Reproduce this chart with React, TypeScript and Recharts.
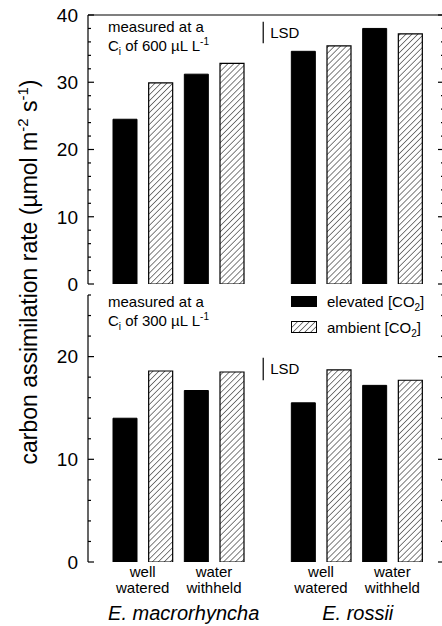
import React from 'react';
import { BarChart, Bar, XAxis, YAxis, ReferenceLine } from 'recharts';

// groups in order: E. macrorhyncha well watered / water withheld, E. rossii well watered / water withheld
const treatments = ['well watered', 'water withheld', 'well watered', 'water withheld'];
const species = ['E. macrorhyncha', 'E. rossii'];

// measured at Ci of 600 uL/L
const topElevated = [24.5, 31.2, 34.6, 38.0];
const topAmbient = [29.9, 32.8, 35.4, 37.2];
// measured at Ci of 300 uL/L
const bottomElevated = [14.0, 16.7, 15.5, 17.2];
const bottomAmbient = [18.6, 18.5, 18.7, 17.7];

// LSD bars: [base, length]
const topLsd = [35.8, 3.2];
const bottomLsd = [17.7, 2.2];

const topTicks = [0, 2, 4, 6, 8, 10, 12, 14, 16, 18, 20, 22, 24, 26, 28, 30, 32, 34, 36, 38, 40];
const bottomTicks = [0, 2, 4, 6, 8, 10, 12, 14, 16, 18, 20, 22, 24, 26];

const FONT = '"Liberation Sans", Arial, Helvetica, sans-serif';
const W = 446;
const YW = 88;
const PAD = { left: 19, right: 16 };
const SLOT = (W - YW - 2 - PAD.left - PAD.right) / 9;
// index axis: value i sits at the centre of slot i
const IDX_PAD = { left: PAD.left + SLOT / 2, right: PAD.right + SLOT / 2 };

function buildRows(elev: number[], amb: number[]) {
  const rows: any[] = [];
  elev.forEach((v, g) => {
    if (g === 2) rows.push({ key: 'gap', elevated: null, ambient: null });
    rows.push({ key: 'e' + g, elevated: v, ambient: null });
    rows.push({ key: 'a' + g, elevated: null, ambient: amb[g] });
  });
  return rows.map((r, i) => ({ ...r, idx: i }));
}

const topRows = buildRows(topElevated, topAmbient);
const bottomRows = buildRows(bottomElevated, bottomAmbient);

// label positions on the slot index scale
const groupPos = [0.5, 2.5, 5.5, 7.5];
const speciesPos = [1.65, 6.53];
const lsdPos = 3.88;

const LeftTick = (props: any) => {
  const { x, y, payload } = props;
  const major = payload.value % 10 === 0;
  return (
    <g>
      <line x1={x} x2={x + (major ? 6 : 3)} y1={y} y2={y} stroke="#000" strokeWidth={1.2} />
      {major && (
        <text x={x - 10} y={y} dy="0.36em" textAnchor="end" fontSize={19} fontFamily={FONT} fill="#000">
          {payload.value}
        </text>
      )}
    </g>
  );
};

const RightTick = (props: any) => {
  const { x, y, payload } = props;
  const major = payload.value % 10 === 0;
  return <line x1={x} x2={x - (major ? 6 : 3)} y1={y} y2={y} stroke="#000" strokeWidth={1.2} />;
};

const LabelTick = (props: any) => {
  const { x, y, payload } = props;
  const gi = groupPos.indexOf(payload.value);
  if (gi >= 0) {
    const words = treatments[gi].split(' ');
    return (
      <g fontSize={15} fontFamily={FONT} fill="#000" textAnchor="middle">
        <text x={x} y={y + 15}>{words[0]}</text>
        <text x={x} y={y + 31}>{words[1]}</text>
      </g>
    );
  }
  const si = speciesPos.indexOf(payload.value);
  return (
    <text x={x} y={y + 58} textAnchor="middle" fontSize={20} fontStyle="italic" fontFamily={FONT} fill="#000">
      {species[si]}
    </text>
  );
};

const Hatch = () => (
  <defs>
    <pattern id="hatch" patternUnits="userSpaceOnUse" width={4.2} height={4.2} patternTransform="rotate(45)">
      <rect width={4.2} height={4.2} fill="#fff" />
      <line x1={0} y1={0} x2={0} y2={4.2} stroke="#000" strokeWidth={1} />
    </pattern>
  </defs>
);

const Note = ({ y, ci }: { y: number; ci: string }) => (
  <text x={108} y={y} fontSize={15} fontFamily={FONT} fill="#000">
    <tspan x={108}>measured at a</tspan>
    <tspan x={108} dy={19}>C</tspan>
    <tspan fontSize={10} dy={4}>i</tspan>
    <tspan dy={-4}>{` of ${ci} µL L`}</tspan>
    <tspan fontSize={10} dy={-6}>-1</tspan>
  </text>
);

function series() {
  return [
    <Bar key="e" dataKey="elevated" stackId="s" fill="#000" stroke="#000" barSize={24} isAnimationActive={false} />,
    <Bar key="a" dataKey="ambient" stackId="s" fill="url(#hatch)" stroke="#000" strokeWidth={1.2} barSize={24} isAnimationActive={false} />,
  ];
}

function LsdLabel(props: any) {
  const vb = props.viewBox || {};
  return (
    <text x={vb.x + 7} y={vb.y + vb.height / 2} dy="0.36em" fontSize={15} fontFamily={FONT} fill="#000">
      LSD
    </text>
  );
}

export default function App() {
  return (
    <div style={{ position: 'absolute', left: 0, top: 0, width: 442, height: 626, overflow: 'hidden', background: '#fff' }}>
      <div style={{ position: 'absolute', left: 0, top: 0 }}>
        <BarChart width={W} height={300} data={topRows} margin={{ top: 15, right: 0, bottom: 16, left: 0 }} barCategoryGap={0}>
          <Hatch />
          <XAxis dataKey="key" height={0} tick={false} tickLine={false} padding={PAD} axisLine={{ stroke: '#000', strokeWidth: 1.2 }} />
          <XAxis xAxisId="num" dataKey="idx" type="number" domain={['dataMin', 'dataMax']} hide padding={IDX_PAD} />
          <YAxis domain={[0, 40]} ticks={topTicks} interval={0} width={YW} tickSize={0} tickMargin={0} tickLine={false} tick={<LeftTick />} axisLine={{ stroke: '#000', strokeWidth: 1.2 }} allowDataOverflow />
          <YAxis yAxisId="r" orientation="right" domain={[0, 40]} ticks={topTicks} interval={0} width={2} tickSize={0} tickMargin={0} tickLine={false} tick={<RightTick />} axisLine={{ stroke: '#000', strokeWidth: 1.2 }} allowDataOverflow />
          <ReferenceLine y={40} stroke="#000" strokeWidth={1.2} />
          {series()}
          <ReferenceLine
            xAxisId="num"
            segment={[{ x: lsdPos, y: topLsd[0] }, { x: lsdPos, y: topLsd[0] + topLsd[1] }]}
            stroke="#000"
            strokeWidth={1.2}
            label={<LsdLabel />}
          />
          <Note y={32} ci="600" />
        </BarChart>
      </div>
      <div style={{ position: 'absolute', left: 0, top: 280 }}>
        <BarChart width={W} height={346} data={bottomRows} margin={{ top: 15, right: 0, bottom: 0, left: 0 }} barCategoryGap={0}>
          <Hatch />
          <XAxis dataKey="key" height={0} tick={false} tickLine={false} padding={PAD} axisLine={{ stroke: '#000', strokeWidth: 1.2 }} />
          <XAxis
            xAxisId="num"
            dataKey="idx"
            type="number"
            domain={['dataMin', 'dataMax']}
            padding={IDX_PAD}
            ticks={[...groupPos, ...speciesPos]}
            interval={0}
            height={64}
            tickSize={0}
            tickMargin={0}
            tickLine={false}
            axisLine={false}
            tick={<LabelTick />}
          />
          <YAxis domain={[0, 26]} ticks={bottomTicks} interval={0} width={YW} tickSize={0} tickMargin={0} tickLine={false} tick={<LeftTick />} axisLine={{ stroke: '#000', strokeWidth: 1.2 }} allowDataOverflow />
          <YAxis yAxisId="r" orientation="right" domain={[0, 26]} ticks={bottomTicks} interval={0} width={2} tickSize={0} tickMargin={0} tickLine={false} tick={<RightTick />} axisLine={{ stroke: '#000', strokeWidth: 1.2 }} allowDataOverflow />
          {series()}
          <ReferenceLine
            xAxisId="num"
            segment={[{ x: lsdPos, y: bottomLsd[0] }, { x: lsdPos, y: bottomLsd[0] + bottomLsd[1] }]}
            stroke="#000"
            strokeWidth={1.2}
            label={<LsdLabel />}
          />
          <Note y={27} ci="300" />
          <g fontFamily={FONT} fontSize={15} fill="#000">
            <rect x={291} y={16} width={26} height={11} fill="#000" />
            <text x={327} y={27}>
              elevated [CO<tspan fontSize={10} dy={4}>2</tspan>
              <tspan dy={-4}>]</tspan>
            </text>
            <rect x={291.5} y={41.5} width={25} height={11} fill="url(#hatch)" stroke="#000" strokeWidth={1} />
            <text x={327} y={53}>
              ambient [CO<tspan fontSize={10} dy={4}>2</tspan>
              <tspan dy={-4}>]</tspan>
            </text>
          </g>
        </BarChart>
      </div>
      <svg width={60} height={626} style={{ position: 'absolute', left: 0, top: 0 }}>
        <text transform="translate(37,272) rotate(-90)" textAnchor="middle" fontSize={23} fontFamily={FONT} fill="#000">
          carbon assimilation rate (µmol m<tspan fontSize={15} dy={-9}>-2</tspan>
          <tspan dy={9}> s</tspan>
          <tspan fontSize={15} dy={-9}>-1</tspan>
          <tspan dy={9}>)</tspan>
        </text>
      </svg>
    </div>
  );
}
